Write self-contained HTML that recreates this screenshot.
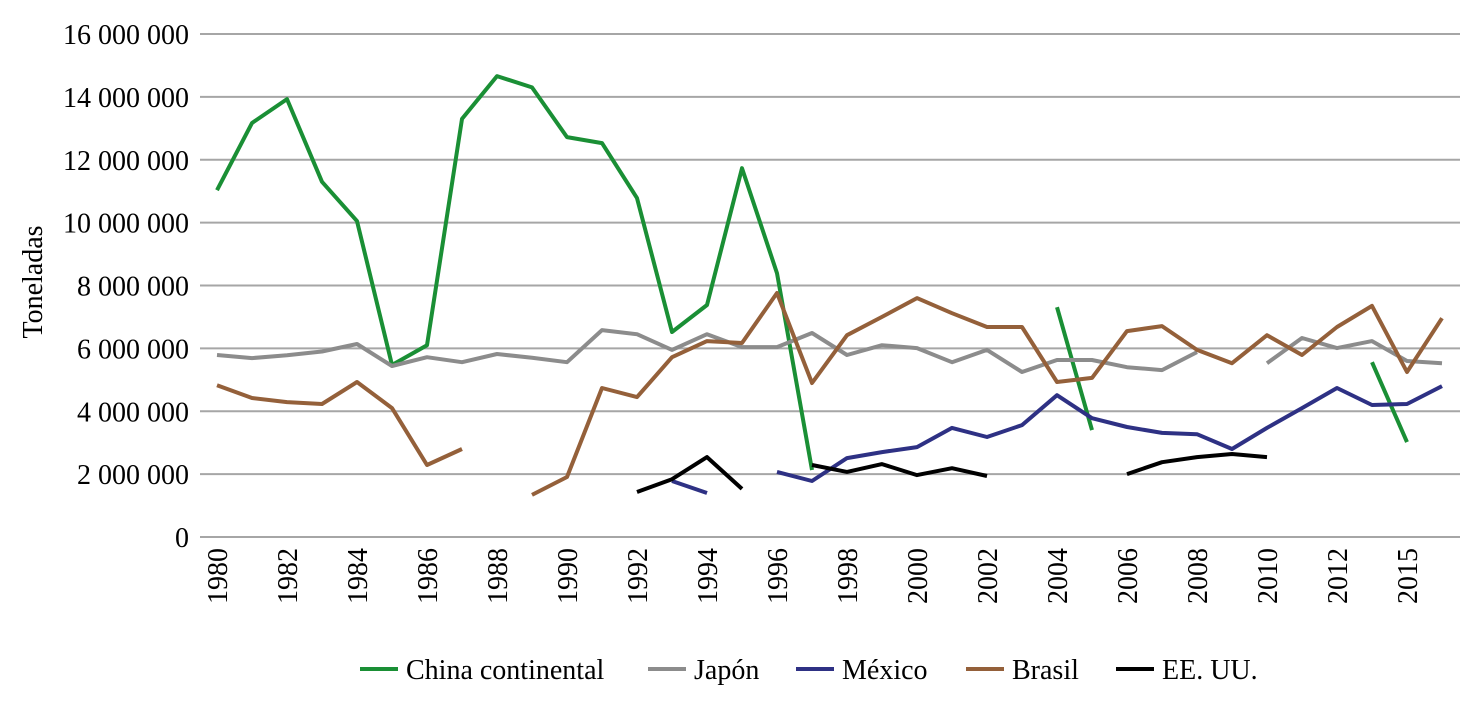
<!DOCTYPE html>
<html><head><meta charset="utf-8"><style>
html,body{margin:0;padding:0;background:#fff;}
svg{display:block;font-family:"Liberation Serif",serif;}
</style></head><body>
<svg id="chart" width="1475" height="703" viewBox="0 0 1475 703">
<g id="grid"></g>
<g id="yticks"></g>
<g id="xticks"></g>
<text transform="translate(42,282) rotate(-90)" text-anchor="middle" font-size="28">Toneladas</text>
<g id="series"></g>
<g id="legend"></g>
</svg>
<script>
const categories=["1980","1981","1982","1983","1984","1985","1986","1987","1988","1989","1990","1991","1992","1993","1994","1995","1996","1997","1998","1999","2000","2001","2002","2003","2004","2005","2006","2007","2008","2009","2010","2011","2012","2013","2015","2016"];
const xLabels=["1980","1982","1984","1986","1988","1990","1992","1994","1996","1998","2000","2002","2004","2006","2008","2010","2012","2015"];
const yTicks=[0,2000000,4000000,6000000,8000000,10000000,12000000,14000000,16000000];
const yTickLabels=["0","2 000 000","4 000 000","6 000 000","8 000 000","10 000 000","12 000 000","14 000 000","16 000 000"];
const seriesNames=["China continental","Japón","México","Brasil","EE. UU."];
const china=[11.03,13.17,13.93,11.3,10.05,5.47,6.1,13.3,14.66,14.3,12.72,12.53,10.78,6.52,7.38,11.73,8.39,2.13,null,null,null,null,null,null,7.31,3.4,null,null,null,null,null,null,null,5.56,3.02,null];
const japan=[5.79,5.69,5.78,5.9,6.14,5.44,5.72,5.56,5.82,5.7,5.56,6.58,6.45,5.95,6.45,6.04,6.04,6.49,5.79,6.1,6.01,5.56,5.95,5.25,5.63,5.63,5.4,5.31,5.88,null,5.53,6.33,6.01,6.23,5.6,5.53];
const mexico=[null,null,null,null,null,null,null,null,null,null,null,null,null,1.78,1.4,null,2.07,1.78,2.51,2.7,2.86,3.47,3.18,3.56,4.51,3.78,3.5,3.31,3.27,2.8,3.47,4.1,4.74,4.2,4.23,4.8];
const brasil=[4.83,4.42,4.29,4.23,4.93,4.1,2.29,2.8,null,1.34,1.91,4.74,4.45,5.72,6.23,6.17,7.76,4.9,6.42,7.0,7.6,7.12,6.68,6.68,4.93,5.06,6.55,6.71,5.95,5.53,6.42,5.79,6.68,7.35,5.25,6.96];
const usa=[null,null,null,null,null,null,null,null,null,null,null,null,1.43,1.84,2.54,1.53,null,2.29,2.07,2.32,1.97,2.19,1.94,null,null,null,2.0,2.38,2.54,2.64,2.54,null,null,null,null,null];
const NS="http://www.w3.org/2000/svg";
const left=199.5,bw=35,y0=537,yTop=34,yMax=16000000;
function xs(i){return left+bw*(i+0.5);}
function ys(v){return y0-(v/yMax)*(y0-yTop);}
function mk(t,a,p){const e=document.createElementNS(NS,t);for(const k in a)e.setAttribute(k,a[k]);p.appendChild(e);return e;}
const grid=document.getElementById('grid'),yt=document.getElementById('yticks'),xt=document.getElementById('xticks');
yTicks.forEach((v,i)=>{
 const l=mk('line',{x1:200,x2:1460,y1:ys(v),y2:ys(v),stroke:'#a6a6a6','stroke-width':2},grid);
 
 
 const t=mk('text',{x:189,y:ys(v)+10,'text-anchor':'end','font-size':28},yt);
 
 
 t.textContent=yTickLabels[i];
});
xLabels.forEach(lab=>{
 const i=categories.indexOf(lab);
 const t=mk('text',{transform:`translate(${xs(i)+10},548) rotate(-90)`,'text-anchor':'end','font-size':28},xt);
 
 
 t.textContent=lab;
});
const colors=['#1a8f35','#8c8c8c','#2e3184','#94603a','#000000'];
const data=[china,japan,mexico,brasil,usa];
const sg=document.getElementById('series');
data.forEach((arr,si)=>{
 let d='',pen=false;
 arr.forEach((v,i)=>{
  if(v==null){pen=false;return;}
  d+=(pen?'L':'M')+xs(i).toFixed(1)+' '+ys(v*1e6).toFixed(1)+' ';pen=true;
 });
 const p=mk('path',{d:d,fill:'none',stroke:colors[si],'stroke-width':4,'stroke-linejoin':'round'},sg);
 
 
});
const lg=document.getElementById('legend');
const lx=[360,648,796,966,1116];
seriesNames.forEach((n,i)=>{
 const g=mk('g',{},lg);
 
 
 mk('line',{x1:lx[i],x2:lx[i]+38,y1:669,y2:669,stroke:colors[i],'stroke-width':4},g);
 const t=mk('text',{x:lx[i]+46,y:679,'font-size':28},g);
 t.textContent=n;
});
</script>
</body></html>
